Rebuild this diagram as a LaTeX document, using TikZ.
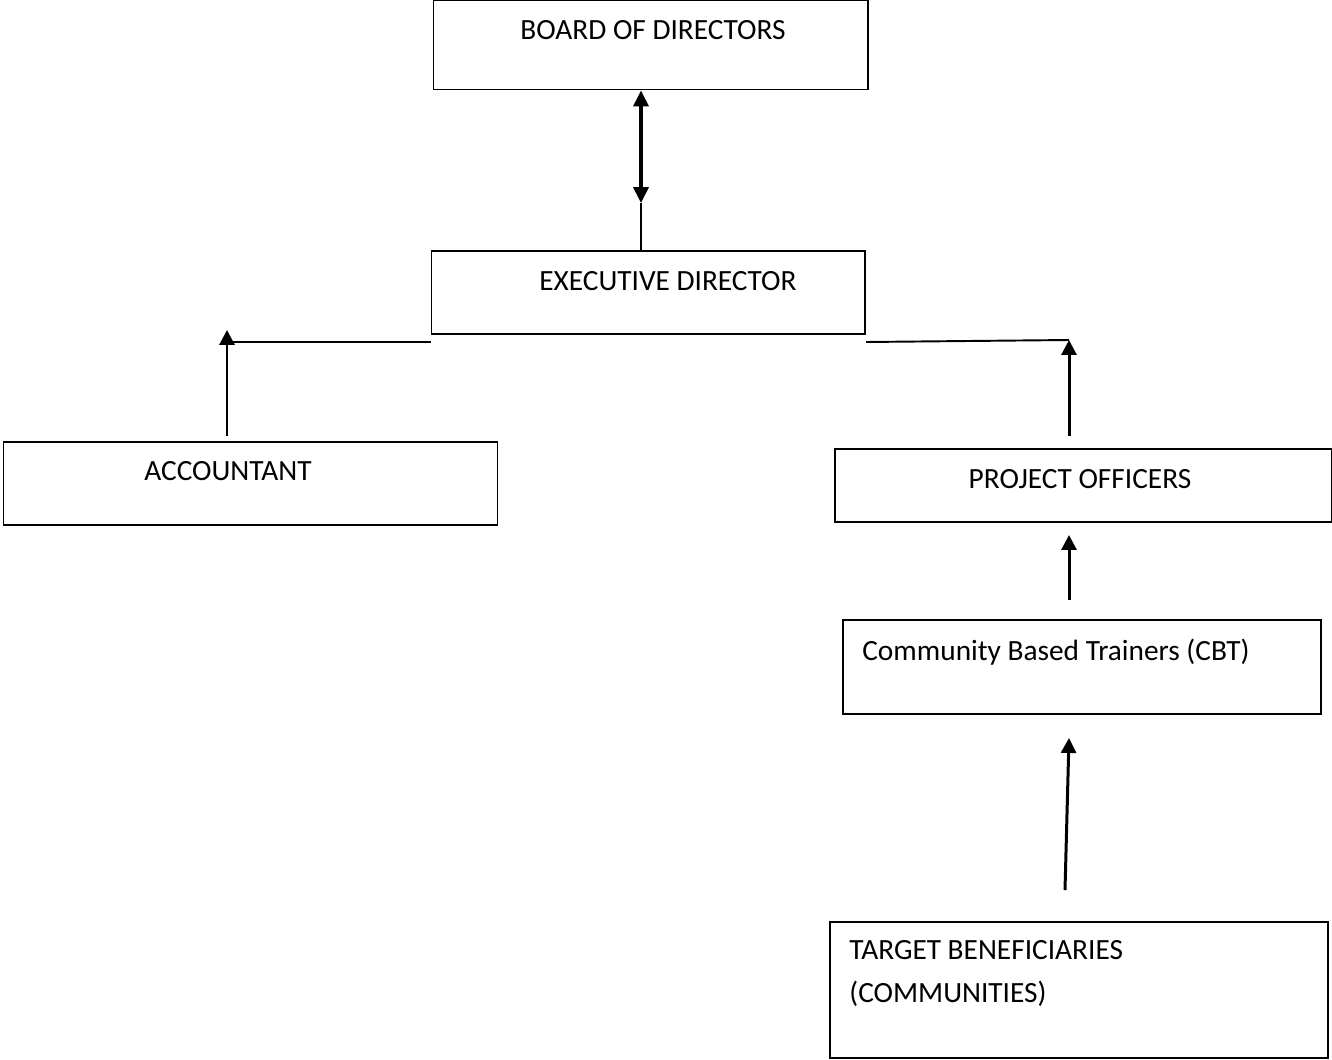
\documentclass[tikz,border=0pt]{standalone}
\usepackage{fontspec}
\setmainfont{Carlito}
\usetikzlibrary{arrows.meta,positioning,calc}

\begin{document}
\begin{tikzpicture}[
    x=0.02cm, y=-0.02cm,
    box/.style={rectangle, draw=black, line width=0.85pt, anchor=north west, inner sep=0pt},
    txt/.style={font=\fontsize{16.7}{20}\selectfont, inner sep=0pt},
    arrow/.style={-{Triangle[length=8.5pt,width=8.5pt]}, line width=1.7pt},
    dblarrow/.style={{Triangle[length=9pt,width=8.5pt]}-{Triangle[length=9pt,width=8.5pt]}, line width=1.9pt},
    link/.style={line width=1.1pt}
]
\useasboundingbox (0,0) rectangle (1332,1059);

% Boxes
\node[box, minimum width=434*0.02cm, minimum height=89*0.02cm] (bod) at (433,0) {};
\node[box, minimum width=433*0.02cm, minimum height=83*0.02cm] (ed) at (431,250) {};
\node[box, minimum width=494*0.02cm, minimum height=83*0.02cm] (acc) at (3,441) {};
\node[box, minimum width=497*0.02cm, minimum height=73*0.02cm] (po) at (834,448) {};
\node[box, minimum width=478*0.02cm, minimum height=94*0.02cm] (cbt) at (842,619) {};
\node[box, minimum width=498*0.02cm, minimum height=136*0.02cm] (tb) at (829,921) {};

% Texts
\node[txt, anchor=base] (bodT) at (653,39) {BOARD OF DIRECTORS};
\node[txt, anchor=base] (edT) at (668,290) {EXECUTIVE DIRECTOR};
\node[txt, anchor=base] (accT) at (228,480) {ACCOUNTANT};
\node[txt, anchor=base] (poT) at (1080,488) {PROJECT OFFICERS};
\node[txt, anchor=base west] (cbtT) at (862,660) {Community Based Trainers (CBT)};
\node[txt, anchor=base west] (tbT1) at (849,959) {TARGET BENEFICIARIES};
\node[txt, anchor=base west] (tbT2) at (849,1002) {(COMMUNITIES)};

% Free ends
\coordinate (dblEnd) at (641,203);
\coordinate (accFoot) at (227,436);
\coordinate (accTip) at (227,330);
\coordinate (edL) at (431,342);
\coordinate (edR) at (866,342);
\coordinate (poFoot) at (1069,436);
\coordinate (poTip) at (1069,340);
\coordinate (cbtFoot) at (1069,600);
\coordinate (cbtTip) at (1069,535);
\coordinate (tbFoot) at (1065,890);
\coordinate (tbTip) at (1069,738);

% Board <-> Executive
\draw[dblarrow] (bod.south -| dblEnd) -- (dblEnd);
\draw[line width=1.2pt] (dblEnd) -- (ed.north -| dblEnd);

% Accountant
\draw[link] (edL) -- (edL -| accFoot);
\draw[arrow] (accFoot) -- (accTip);

% Project officers
\draw[link] (edR) -- (poTip);
\draw[arrow] (poFoot) -- (poTip);

% CBT and beneficiaries
\draw[arrow] (cbtFoot) -- (cbtTip);
\draw[arrow] (tbFoot) -- (tbTip);

\end{tikzpicture}
\end{document}
